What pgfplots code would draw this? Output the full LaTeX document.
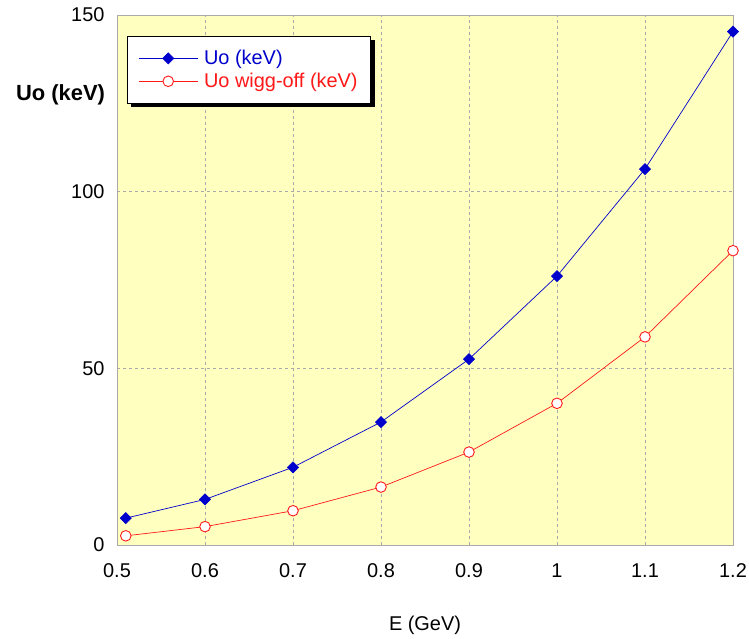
\documentclass[border=0pt]{standalone}
\usepackage{fontspec}
\setmainfont{Liberation Sans}
\usepackage{pgfplots}
\pgfplotsset{compat=1.18}
\usetikzlibrary{shadows}
\makeatletter
\tikzset{nopre/.code={\def\tikz@preactions{}}}
\makeatother
\definecolor{bgyellow}{RGB}{255,255,192}
\definecolor{ublue}{RGB}{0,0,204}
\definecolor{ured}{RGB}{255,24,24}
\definecolor{gridgray}{RGB}{170,170,170}
\begin{document}
\begin{tikzpicture}[font=\fontsize{20}{24}\selectfont]
\begin{axis}[
  at={(0,0)}, anchor=south west,
  scale only axis, width=616bp, height=530bp,
  xmin=0.5, xmax=1.2, ymin=0, ymax=150,
  xtick={0.5,0.6,...,1.2},
  xticklabels={0.5,0.6,0.7,0.8,0.9,1,1.1,1.2},
  ytick={0,50,100,150},
  major tick length=0pt,
  /pgf/number format/assume math mode=true,
  xticklabel shift=15bp, yticklabel shift=9bp,
  axis background/.style={fill=bgyellow},
  axis line style={draw=gridgray, line width=0.8pt},
  grid=major,
  major grid style={draw=gridgray, dash pattern=on 3bp off 3bp, line width=0.6pt},
  xlabel={E (GeV)},
  xlabel style={at={(axis description cs:0.5,-0.151)}, anchor=center},
  clip=false,
  legend style={at={(rel axis cs:0.0162,0.9604)}, anchor=north west,
    draw=black, line width=0.8pt, fill=white,
    drop shadow={shadow xshift=4bp, shadow yshift=-4bp, fill=black, opacity=1},
    inner xsep=11bp, inner ysep=12bp, row sep=3bp,
    nodes={inner sep=2bp, nopre},
    /tikz/every odd column/.append style={column sep=4bp},
    font=\fontsize{20}{24}\selectfont},
  legend cell align=left,
  legend image code/.code={
    \draw[nopre, mark repeat=2, mark phase=2, #1] plot coordinates {(0bp,0bp) (29.5bp,0bp) (59bp,0bp)};
  },
]
\addplot[ublue, line width=0.7pt, mark=square*, mark size=3.9bp,
  mark options={fill=ublue, draw=ublue, rotate=45}] coordinates {
  (0.51,7.6) (0.6,12.9) (0.7,22.0) (0.8,34.8) (0.9,52.6) (1.0,76.1) (1.1,106.4) (1.2,145.3)
};
\addlegendentry{\textcolor{ublue}{Uo (keV)}}
\addplot[ured, line width=0.7pt, mark=*, mark size=5.3bp,
  mark options={fill=white, draw=ured, line width=0.9pt}] coordinates {
  (0.51,2.6) (0.6,5.2) (0.7,9.7) (0.8,16.4) (0.9,26.3) (1.0,40.1) (1.1,58.9) (1.2,83.3)
};
\addlegendentry{\textcolor{ured}{Uo wigg-off (keV)}}
\end{axis}
\node[font=\fontsize{22}{26}\selectfont\bfseries] at (-56.5bp,450bp) {Uo (keV)};
\pgfresetboundingbox
\path (-117bp,-94bp) rectangle (632bp,545bp);
\end{tikzpicture}
\end{document}
